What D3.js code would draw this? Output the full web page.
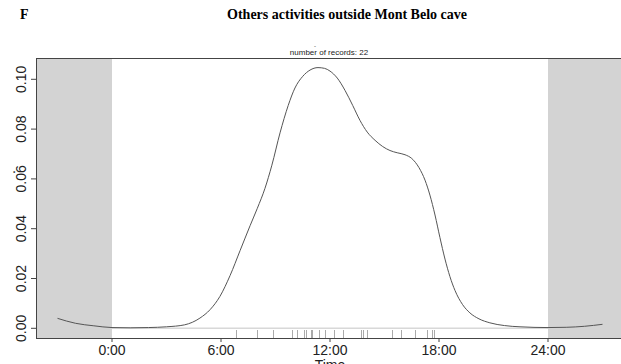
<!DOCTYPE html>
<html>
<head>
<meta charset="utf-8">
<script src="https://cdn.jsdelivr.net/npm/d3@7"></script>
<style>
  body { margin: 0; background: #fff; }
  svg { display: block; }
</style>
</head>
<body>
<svg id="chart" width="621" height="364"></svg>
<script>
// density curve (hour, density)
const curveHours = [-3, -2, -1, 0, 1, 2, 3, 4, 4.84, 5.4, 5.94, 6.5, 7.05, 7.6, 8.0, 8.42, 8.8, 9.25, 9.7, 10.07, 10.5, 10.9, 11.34, 11.7, 12.0, 12.4, 12.83, 13.25, 13.65, 14.05, 14.48, 14.9, 15.3, 15.7, 16.13, 16.5, 16.9, 17.23, 17.5, 17.78, 18.05, 18.33, 18.6, 18.88, 19.3, 19.7, 20.2, 20.8, 21.6, 22.46, 24, 25, 26, 27];
const curveDensity = [0.004, 0.002, 0.001, 0.0003, 0.0002, 0.0003, 0.0006, 0.0014, 0.0041, 0.0075, 0.0128, 0.0212, 0.0312, 0.0412, 0.0482, 0.0562, 0.0655, 0.0785, 0.0895, 0.0965, 0.1012, 0.1037, 0.1047, 0.1044, 0.1033, 0.1005, 0.0955, 0.0895, 0.0835, 0.0788, 0.0755, 0.073, 0.0714, 0.0705, 0.0697, 0.0682, 0.0645, 0.0595, 0.0535, 0.0455, 0.0365, 0.0278, 0.0208, 0.0152, 0.0095, 0.0062, 0.0038, 0.0022, 0.0011, 0.0006, 0.0003, 0.0004, 0.0008, 0.0016];

// records (hour of day)
const records = [6.83, 7.96, 8.88, 9.89, 10.17, 10.59, 10.68, 10.94, 11.0, 11.41, 11.72, 12.22, 12.70, 13.69, 13.80, 14.02, 15.40, 15.92, 16.70, 17.36, 17.61, 17.74];

const xTicks = [0, 6, 12, 18, 24];
const xTickLabels = ["0:00", "6:00", "12:00", "18:00", "24:00"];
const yTicks = [0, 0.02, 0.04, 0.06, 0.08, 0.10];

const svg = d3.select("#chart");
const box = { left: 36, top: 58, right: 640, bottom: 338 };

const x = d3.scaleLinear().domain([0, 24]).range([112, 548]);
const y = d3.scaleLinear().domain([0, 0.1]).range([328.3, 79.3]);

// night shading
svg.append("rect")
  .attr("x", box.left).attr("y", box.top)
  .attr("width", x(0) - box.left).attr("height", box.bottom - box.top)
  .attr("fill", "#d3d3d3");
svg.append("rect")
  .attr("x", x(24)).attr("y", box.top)
  .attr("width", box.right - x(24)).attr("height", box.bottom - box.top)
  .attr("fill", "#d3d3d3");

// zero line across the day
svg.append("line")
  .attr("x1", x(0)).attr("x2", x(24))
  .attr("y1", y(0)).attr("y2", y(0))
  .attr("stroke", "#d8d8d8").attr("stroke-width", 1.5);

// rug
svg.append("g").selectAll("line")
  .data(records)
  .join("line")
  .attr("x1", d => Math.round(x(d)) + 0.5).attr("x2", d => Math.round(x(d)) + 0.5)
  .attr("y1", 330).attr("y2", box.bottom)
  .attr("stroke", "#aaa").attr("stroke-width", 1);

// density
const pts = curveHours.map((h, i) => [h, curveDensity[i]]);
svg.append("path")
  .datum(pts)
  .attr("fill", "none")
  .attr("stroke", "#555")
  .attr("stroke-width", 1)
  .attr("d", d3.line().x(d => x(d[0])).y(d => y(d[1])).curve(d3.curveMonotoneX));

// box
svg.append("rect")
  .attr("x", box.left + 0.5).attr("y", box.top + 0.5)
  .attr("width", box.right - box.left).attr("height", box.bottom - box.top)
  .attr("fill", "none").attr("stroke", "#444");

// y axis
const yAxis = svg.append("g");
yAxis.selectAll("line")
  .data(yTicks)
  .join("line")
  .attr("x1", 31).attr("x2", box.left)
  .attr("y1", d => y(d)).attr("y2", d => y(d))
  .attr("stroke", "#444");
yAxis.selectAll("text")
  .data(yTicks)
  .join("text")
  .attr("transform", d => `translate(26,${y(d)}) rotate(-90)`)
  .attr("text-anchor", "middle")
  .attr("font-family", "Liberation Sans, Arial, sans-serif")
  .attr("font-size", 14)
  .attr("fill", "#222")
  .text(d => d.toFixed(2));

// x axis
const xAxis = svg.append("g");
xAxis.selectAll("line")
  .data(xTicks)
  .join("line")
  .attr("x1", d => x(d)).attr("x2", d => x(d))
  .attr("y1", box.bottom).attr("y2", 342)
  .attr("stroke", "#444");
xAxis.selectAll("text")
  .data(xTicks)
  .join("text")
  .attr("x", d => x(d)).attr("y", 355)
  .attr("text-anchor", "middle")
  .attr("font-family", "Liberation Sans, Arial, sans-serif")
  .attr("font-size", 14)
  .attr("fill", "#222")
  .text((d, i) => xTickLabels[i]);

svg.append("text")
  .attr("x", 330).attr("y", 370)
  .attr("text-anchor", "middle")
  .attr("font-family", "Liberation Sans, Arial, sans-serif")
  .attr("font-size", 14)
  .attr("fill", "#222")
  .text("Time");

// y label (a lone dot in the original)
svg.append("text")
  .attr("transform", "translate(15,172) rotate(-90)")
  .attr("text-anchor", "middle")
  .attr("font-family", "Liberation Sans, Arial, sans-serif")
  .attr("font-size", 14)
  .text(".");

// subtitle
svg.append("text")
  .attr("x", 315).attr("y", 48)
  .attr("text-anchor", "middle")
  .attr("font-family", "Liberation Sans, Arial, sans-serif")
  .attr("font-size", 6)
  .attr("fill", "#333")
  .text("-");
svg.append("text")
  .attr("x", 329).attr("y", 55)
  .attr("text-anchor", "middle")
  .attr("font-family", "Liberation Sans, Arial, sans-serif")
  .attr("font-size", 8)
  .attr("fill", "#222")
  .text("number of records: 22");

// titles
svg.append("text")
  .attr("x", 20).attr("y", 19)
  .attr("font-family", "Liberation Serif, Times New Roman, serif")
  .attr("font-weight", "bold")
  .attr("font-size", 14)
  .text("F");
svg.append("text")
  .attr("x", 347).attr("y", 19)
  .attr("text-anchor", "middle")
  .attr("font-family", "Liberation Serif, Times New Roman, serif")
  .attr("font-weight", "bold")
  .attr("font-size", 14)
  .text("Others activities outside Mont Belo cave");
</script>
</body>
</html>
